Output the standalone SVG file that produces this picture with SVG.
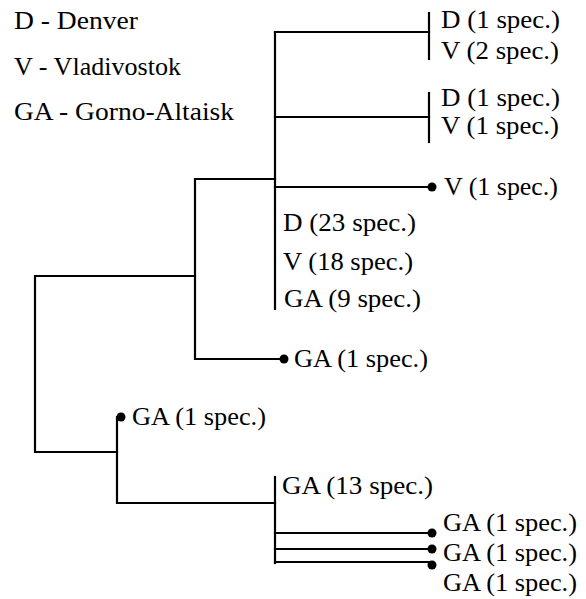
<svg xmlns="http://www.w3.org/2000/svg" width="586" height="599" viewBox="0 0 586 599">
<style>
  .ln { fill: none; stroke: #000; stroke-width: 2.2; stroke-linecap: square; }
  .dot { fill: #000; }
  text { font-family: 'Liberation Serif', 'Times New Roman', serif; font-size: 25px; fill: #000; }
</style>
<rect width="586" height="599" fill="#fff"/>
<g id="legend">
  <text x="14" y="29" textLength="124" lengthAdjust="spacingAndGlyphs">D - Denver</text>
  <text x="14" y="75" textLength="167" lengthAdjust="spacingAndGlyphs">V - Vladivostok</text>
  <text x="14" y="120" textLength="220" lengthAdjust="spacingAndGlyphs">GA - Gorno-Altaisk</text>
</g>
<g id="connectors">
  <path class="ln" d="M195,276 H35 V452 H117"/>
  <path class="ln" d="M275,179 H195 V359 H283"/>
  <path class="ln" d="M275,32 V309"/>
  <path class="ln" d="M275,32 H429"/>
  <path class="ln" d="M429,13 V59"/>
  <path class="ln" d="M275,117 H429"/>
  <path class="ln" d="M429,93 V142"/>
  <path class="ln" d="M275,187 H431"/>
  <path class="ln" d="M121,417 H117 V503 H275"/>
  <path class="ln" d="M275,477 V563"/>
  <path class="ln" d="M275,533 H431"/>
  <path class="ln" d="M275,549 H431"/>
  <path class="ln" d="M275,562 H431"/>
</g>
<g id="leaf-DV1">
  <text x="441" y="28" textLength="119" lengthAdjust="spacingAndGlyphs">D (1 spec.)</text>
  <text x="441" y="59" textLength="118" lengthAdjust="spacingAndGlyphs">V (2 spec.)</text>
</g>
<g id="leaf-DV2">
  <text x="441" y="106" textLength="119" lengthAdjust="spacingAndGlyphs">D (1 spec.)</text>
  <text x="441" y="134" textLength="118" lengthAdjust="spacingAndGlyphs">V (1 spec.)</text>
</g>
<g id="leaf-V1">
  <circle class="dot" cx="432" cy="187" r="4.5"/>
  <text x="444" y="195" textLength="114" lengthAdjust="spacingAndGlyphs">V (1 spec.)</text>
</g>
<g id="cluster-main">
  <text x="283" y="231" textLength="133" lengthAdjust="spacingAndGlyphs">D (23 spec.)</text>
  <text x="283" y="270" textLength="130" lengthAdjust="spacingAndGlyphs">V (18 spec.)</text>
  <text x="284" y="307" textLength="137" lengthAdjust="spacingAndGlyphs">GA (9 spec.)</text>
</g>
<g id="leaf-GA-mid">
  <circle class="dot" cx="284" cy="359" r="4.5"/>
  <text x="294" y="367" textLength="134" lengthAdjust="spacingAndGlyphs">GA (1 spec.)</text>
</g>
<g id="leaf-GA-left">
  <circle class="dot" cx="121" cy="417" r="4.5"/>
  <text x="132" y="425" textLength="134" lengthAdjust="spacingAndGlyphs">GA (1 spec.)</text>
</g>
<g id="cluster-GA13">
  <text x="282" y="494" textLength="151" lengthAdjust="spacingAndGlyphs">GA (13 spec.)</text>
</g>
<g id="leaf-GA-b1">
  <circle class="dot" cx="432" cy="533" r="4.5"/>
  <text x="443" y="531" textLength="134" lengthAdjust="spacingAndGlyphs">GA (1 spec.)</text>
</g>
<g id="leaf-GA-b2">
  <circle class="dot" cx="432" cy="549" r="4.5"/>
  <text x="443" y="561" textLength="134" lengthAdjust="spacingAndGlyphs">GA (1 spec.)</text>
</g>
<g id="leaf-GA-b3">
  <circle class="dot" cx="432" cy="565" r="4.5"/>
  <text x="443" y="591" textLength="134" lengthAdjust="spacingAndGlyphs">GA (1 spec.)</text>
</g>
</svg>
